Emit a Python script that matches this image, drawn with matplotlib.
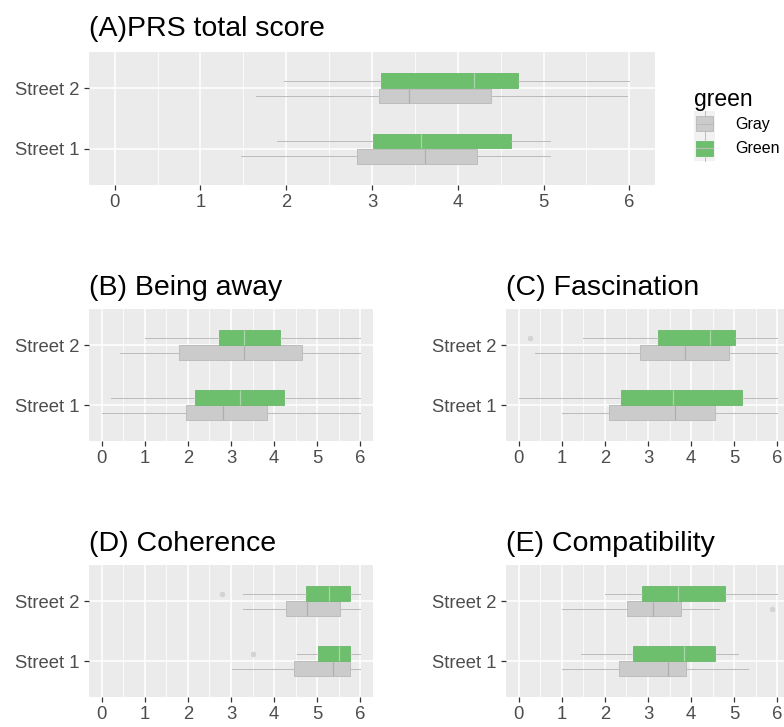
import matplotlib
matplotlib.use('Agg')
import matplotlib.pyplot as plt
from matplotlib.ticker import MultipleLocator
from matplotlib.patches import Rectangle, Patch
from matplotlib.lines import Line2D
from matplotlib.legend_handler import HandlerBase

plt.rcParams['font.family'] = ['Liberation Sans', 'DejaVu Sans']

streets = ['Street 1', 'Street 2']
groups = ['Gray', 'Green']
x_ticks = [0, 1, 2, 3, 4, 5, 6]

# five-number summaries: [whisker low, q1, median, q3, whisker high], rows = Street 1, Street 2
a_gray = [[1.47, 2.83, 3.62, 4.23, 5.07], [1.65, 3.08, 3.43, 4.39, 5.97]]
a_green = [[1.89, 3.01, 3.57, 4.62, 5.07], [1.97, 3.11, 4.19, 4.70, 6.00]]
b_gray = [[0.00, 1.96, 2.81, 3.83, 6.00], [0.43, 1.78, 3.31, 4.64, 6.00]]
b_green = [[0.22, 2.17, 3.21, 4.23, 6.00], [1.01, 2.71, 3.31, 4.14, 6.00]]
c_gray = [[1.00, 2.10, 3.63, 4.55, 6.00], [0.37, 2.82, 3.87, 4.88, 6.00]]
c_green = [[0.00, 2.38, 3.57, 5.19, 6.00], [1.48, 3.23, 4.43, 5.03, 6.00]]
d_gray = [[3.02, 4.47, 5.38, 5.77, 6.00], [3.27, 4.28, 4.76, 5.53, 6.00]]
d_green = [[4.53, 5.03, 5.51, 5.77, 6.00], [3.27, 4.74, 5.28, 5.77, 6.00]]
e_gray = [[1.00, 2.33, 3.47, 3.89, 5.32], [1.00, 2.51, 3.12, 3.77, 4.65]]
e_green = [[1.45, 2.64, 3.83, 4.55, 5.09], [2.00, 2.87, 3.70, 4.78, 6.00]]

# outliers per street
c_green_out = [[], [0.26]]
d_green_out = [[3.52], [2.79]]
e_gray_out = [[], [5.89]]
no_out = [[], []]

titles = ['(A)PRS total score', '(B) Being away', '(C) Fascination',
          '(D) Coherence', '(E) Compatibility']

W, H = 784, 727
fill = {'Gray': '#CBCBCB', 'Green': '#6DBE6D'}
edge = {'Gray': '#B8B8B8', 'Green': '#69B969'}
medc = {'Gray': '#AFAFAF', 'Green': '#A8D8A8'}
whisk = '#BBBBBB'
offset = {'Gray': -0.125, 'Green': 0.125}


def make_stats(rows, outs):
    stats = []
    for r, o in zip(rows, outs):
        stats.append({'whislo': r[0], 'q1': r[1], 'med': r[2], 'q3': r[3],
                      'whishi': r[4], 'fliers': o})
    return stats


def draw_panel(rect_px, title, gray, green, gray_out, green_out, tpad):
    x0, y0, x1, y1 = rect_px
    ax = fig.add_axes([x0 / W, 1 - y1 / H, (x1 - x0) / W, (y1 - y0) / H])
    ax.set_facecolor('#EBEBEB')
    for g, rows, outs in [('Gray', gray, gray_out), ('Green', green, green_out)]:
        pos = [i + 1 + offset[g] for i in range(len(streets))]
        ax.bxp(make_stats(rows, outs), positions=pos, widths=0.24,
               orientation='horizontal', patch_artist=True, showcaps=False,
               manage_ticks=False,
               boxprops=dict(facecolor=fill[g], edgecolor=edge[g], linewidth=0.6),
               whiskerprops=dict(color=whisk, linewidth=0.7),
               medianprops=dict(color=medc[g], linewidth=0.9),
               flierprops=dict(marker='o', markersize=4, markerfacecolor='#D3D3D3',
                               markeredgecolor='none'))
    ax.set_xlim(-0.3, 6.3)
    ax.set_ylim(0.4, 2.6)
    ax.set_xticks(x_ticks)
    ax.set_yticks([1, 2])
    ax.set_yticklabels(streets)
    ax.xaxis.set_minor_locator(MultipleLocator(0.5))
    ax.set_axisbelow(True)
    ax.grid(which='major', color='white', linewidth=1.1)
    ax.grid(which='minor', axis='x', color='white', linewidth=0.55)
    ax.tick_params(which='minor', length=0)
    ax.tick_params(which='major', length=3.6, width=0.9, color='#333333',
                   labelcolor='#4D4D4D', labelsize=13.3, pad=3)
    for s in ax.spines.values():
        s.set_visible(False)
    ax.set_title(title, loc='left', fontsize=20.5, pad=tpad, color='black')
    return ax


class BoxKey(HandlerBase):
    def create_artists(self, legend, orig_handle, xdescent, ydescent, width, height,
                       fontsize, trans):
        fc = orig_handle.get_facecolor()
        ec = orig_handle.get_edgecolor()
        x, y = -xdescent, -ydescent
        bg = Rectangle((x, y), width, height, facecolor='#F2F2F2', edgecolor='none',
                       transform=trans)
        box = Rectangle((x + width * 0.1, y + height * 0.2), width * 0.8, height * 0.6,
                        facecolor=fc, edgecolor=ec, linewidth=0.6, transform=trans)
        med = Line2D([x + width * 0.1, x + width * 0.9], [y + height * 0.5] * 2,
                     color=whisk, linewidth=0.8, transform=trans)
        w1 = Line2D([x + width * 0.5] * 2, [y, y + height * 0.2], color=whisk,
                    linewidth=0.7, transform=trans)
        w2 = Line2D([x + width * 0.5] * 2, [y + height * 0.8, y + height], color=whisk,
                    linewidth=0.7, transform=trans)
        return [bg, box, med, w1, w2]


fig = plt.figure(figsize=(W / 100, H / 100), dpi=100)

draw_panel((89, 52, 655, 185), titles[0], a_gray, a_green, no_out, no_out, 11.5)
draw_panel((89, 309, 373, 441), titles[1], b_gray, b_green, no_out, no_out, 10)
draw_panel((506, 309, 790, 441), titles[2], c_gray, c_green, no_out, c_green_out, 10)
draw_panel((89, 565, 373, 697), titles[3], d_gray, d_green, no_out, d_green_out, 10)
draw_panel((506, 565, 790, 697), titles[4], e_gray, e_green, e_gray_out, no_out, 10)

handles = [Patch(facecolor=fill[g], edgecolor=edge[g]) for g in groups]
leg = fig.legend(handles, groups, title='green', loc='upper left',
                 bbox_to_anchor=(683 / W, 1 - 77 / H), frameon=False,
                 fontsize=11.5, title_fontsize=16.5, handlelength=1.3,
                 handleheight=2.0, labelspacing=0.0, handletextpad=1.3,
                 borderpad=0.2, alignment='left',
                 handler_map={Patch: BoxKey()})

fig.savefig('out.png', dpi=100)
